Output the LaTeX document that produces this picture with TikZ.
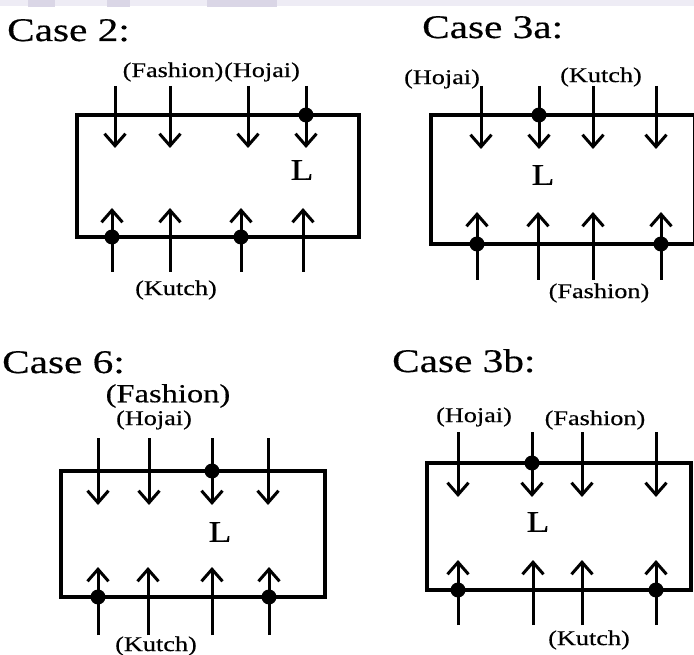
\documentclass[tikz,border=0pt]{standalone}
\usepackage{fontspec}
\setmainfont{Liberation Serif}[FakeStretch=1.25,FakeBold=0.4]
\usetikzlibrary{arrows.meta}
\definecolor{bandA}{RGB}{218,214,230}
\definecolor{bandB}{RGB}{238,236,245}
\tikzset{
  frame/.style={line width=3.2pt},
  flow/.style={line width=3pt, -{Straight Barb[length=12pt,width=21pt]}},
  junction/.style={circle, fill=black, inner sep=0pt, minimum size=15pt},
  title/.style={font=\fontsize{33}{33}\selectfont, anchor=base west, inner sep=0pt},
  tag/.style={font=\fontsize{21}{21}\selectfont, inner sep=0pt},
  bigtag/.style={font=\fontsize{26}{26}\selectfont, inner sep=0pt},
  load/.style={font=\fontsize{30}{30}\selectfont, inner sep=0pt},
}
\begin{document}
\begin{tikzpicture}[x=1pt,y=-1pt]
  \clip (0,0) rectangle (694,655);
  \fill[white] (0,0) rectangle (694,655);

  % faint header strip
  \fill[bandB] (0,0) rectangle (694,6);
  \fill[bandA] (28,0) rectangle (55,7);
  \fill[bandA] (107,0) rectangle (130,7);
  \fill[bandA] (207,0) rectangle (277,7);

  % ---------- Case 2 ----------
  \node[title] (t2) at (7,41) {Case 2:};
  \draw[frame] (77,115) rectangle (359,237);
  \foreach \x in {115,170,248,306} \draw[flow] (\x,86) -- (\x,148);
  \foreach \x in {112,170,241,303} \draw[flow] (\x,272) -- (\x,208);
  \node[junction] (c2a) at (306,115) {};
  \node[junction] (c2b) at (112,237) {};
  \node[junction] (c2c) at (241,237) {};
  \node[load] (c2L) at (302,170) {L};
  \node[tag] (c2f) at (173,72) {(Fashion)};
  \node[tag] (c2h) at (262,72) {(Hojai)};
  \node[tag] (c2k) at (176,290) {(Kutch)};

  % ---------- Case 3a ----------
  \node[title] (t3a) at (422,38) {Case 3a:};
  \draw[frame] (431,115) rectangle (695,244);
  \foreach \x in {481,539,593,656} \draw[flow] (\x,86) -- (\x,149);
  \foreach \x in {477,538,593,661} \draw[flow] (\x,280) -- (\x,212);
  \node[junction] (c3a1) at (539,115) {};
  \node[junction] (c3a2) at (477,244) {};
  \node[junction] (c3a3) at (661,244) {};
  \node[load] (c3aL) at (543,175) {L};
  \node[tag] (c3ah) at (442,79) {(Hojai)};
  \node[tag] (c3ak) at (601,77) {(Kutch)};
  \node[tag] (c3af) at (599,293) {(Fashion)};

  % ---------- Case 6 ----------
  \node[title] (t6) at (2,373) {Case 6:};
  \draw[frame] (61,471) rectangle (325,597);
  \foreach \x in {98,149,212,268} \draw[flow] (\x,438) -- (\x,505);
  \foreach \x in {98,148,212,269} \draw[flow] (\x,635) -- (\x,567);
  \node[junction] (c6a) at (212,471) {};
  \node[junction] (c6b) at (98,597) {};
  \node[junction] (c6c) at (269,597) {};
  \node[load] (c6L) at (220,532) {L};
  \node[bigtag] (c6f) at (168,396) {(Fashion)};
  \node[tag] (c6h) at (154,420) {(Hojai)};
  \node[tag] (c6k) at (156,646) {(Kutch)};

  % ---------- Case 3b ----------
  \node[title] (t3b) at (392,372) {Case 3b:};
  \draw[frame] (427,463) rectangle (691,590);
  \foreach \x in {458,532,582,656} \draw[flow] (\x,432) -- (\x,497);
  \foreach \x in {458,533,582,656} \draw[flow] (\x,625) -- (\x,560);
  \node[junction] (c3b1) at (532,463) {};
  \node[junction] (c3b2) at (458,590) {};
  \node[junction] (c3b3) at (656,590) {};
  \node[load] (c3bL) at (538,522) {L};
  \node[tag] (c3bh) at (474,417) {(Hojai)};
  \node[tag] (c3bf) at (595,420) {(Fashion)};
  \node[tag] (c3bk) at (589,640) {(Kutch)};
\end{tikzpicture}
\end{document}
